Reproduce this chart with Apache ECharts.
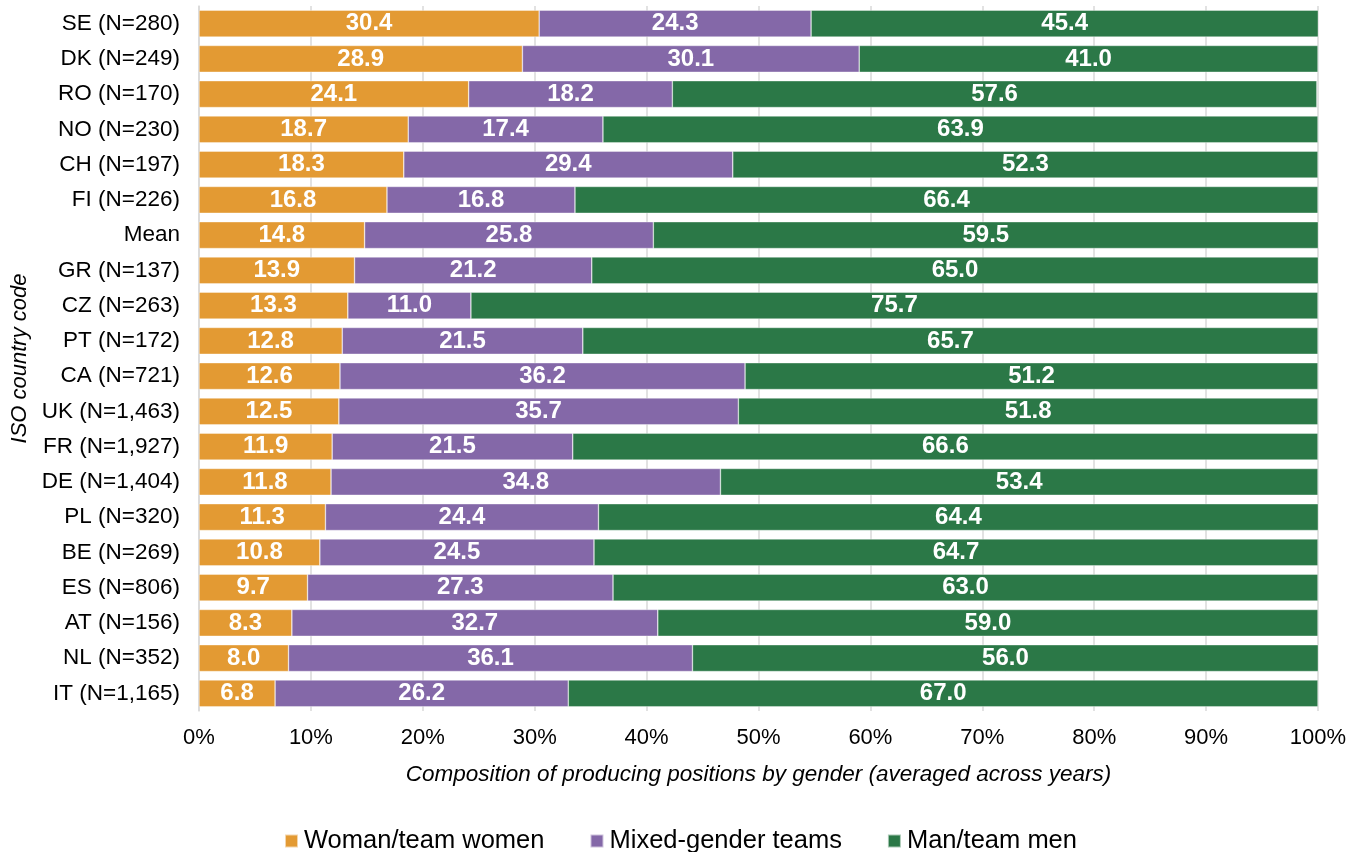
<!DOCTYPE html>
<html>
<head>
<meta charset="utf-8">
<script src="https://cdn.jsdelivr.net/npm/echarts@6/dist/echarts.min.js"></script>
<style>
html,body{margin:0;padding:0;background:#fff;}
#chart{width:1361px;height:852px;}
</style>
</head>
<body>
<div id="chart"></div>
<script>
const categories = ["SE (N=280)","DK (N=249)","RO (N=170)","NO (N=230)","CH (N=197)","FI (N=226)","Mean","GR (N=137)","CZ (N=263)","PT (N=172)","CA (N=721)","UK (N=1,463)","FR (N=1,927)","DE (N=1,404)","PL (N=320)","BE (N=269)","ES (N=806)","AT (N=156)","NL (N=352)","IT (N=1,165)"];
const women = [30.4,28.9,24.1,18.7,18.3,16.8,14.8,13.9,13.3,12.8,12.6,12.5,11.9,11.8,11.3,10.8,9.7,8.3,8.0,6.8];
const mixed = [24.3,30.1,18.2,17.4,29.4,16.8,25.8,21.2,11.0,21.5,36.2,35.7,21.5,34.8,24.4,24.5,27.3,32.7,36.1,26.2];
const men = [45.4,41.0,57.6,63.9,52.3,66.4,59.5,65.0,75.7,65.7,51.2,51.8,66.6,53.4,64.4,64.7,63.0,59.0,56.0,67.0];
const seriesNames = ["Woman/team women","Mixed-gender teams","Man/team men"];
const xTicks = [0,10,20,30,40,50,60,70,80,90,100];

const colors = ["#E39A33","#8468A8","#2B7847"];
const font = "Liberation Sans, Arial, sans-serif";
const chart = echarts.init(document.getElementById('chart'));
function mk(name, data, color){
  return {
    name: name, type: 'bar', stack: 'total', data: data,
    barCategoryGap: '24%',
    itemStyle: {color: color, borderColor: 'rgba(255,255,255,0.6)', borderWidth: 0.6},
    label: {show: true, position: 'inside', color: '#fff', fontWeight: 'bold', fontSize: 24, fontFamily: font,
      formatter: p => p.value.toFixed(1)},
    emphasis: {disabled: true}
  };
}
chart.setOption({
  animation: false,
  textStyle: {fontFamily: font},
  color: colors,
  grid: {left: 199, right: 43, top: 6, bottom: 141, containLabel: false, outerBoundsMode: 'none'},
  legend: {
    bottom: -7, left: 'center', itemWidth: 13, itemHeight: 13, itemGap: 45,
    icon: 'rect',
    textStyle: {fontSize: 25.5, color: '#000', fontFamily: font, padding: [0,0,0,1]},
    data: seriesNames
  },
  xAxis: {
    type: 'value', min: xTicks[0], max: xTicks[xTicks.length-1], interval: 10,
    axisLine: {show: false}, axisTick: {show: false},
    splitLine: {show: true, lineStyle: {color: '#D9D9D9', width: 1.5}},
    axisLabel: {formatter: '{value}%', fontSize: 22, color: '#000', margin: 16, fontFamily: font},
    name: 'Composition of producing positions by gender (averaged across years)',
    nameLocation: 'middle', nameGap: 52,
    nameTextStyle: {fontSize: 22.5, fontStyle: 'italic', color: '#000', fontFamily: font}
  },
  yAxis: {
    type: 'category', data: categories, inverse: true,
    axisLine: {show: true, lineStyle: {color: '#D9D9D9', width: 1.5}},
    axisTick: {show: false},
    axisLabel: {fontSize: 22.5, color: '#000', margin: 19, fontFamily: font},
    name: 'ISO country code', nameLocation: 'middle', nameGap: 166, nameRotate: 90,
    nameTextStyle: {fontSize: 22, fontStyle: 'italic', color: '#000', fontFamily: font}
  },
  series: [mk(seriesNames[0], women, colors[0]), mk(seriesNames[1], mixed, colors[1]), mk(seriesNames[2], men, colors[2])]
});
</script>
</body>
</html>
